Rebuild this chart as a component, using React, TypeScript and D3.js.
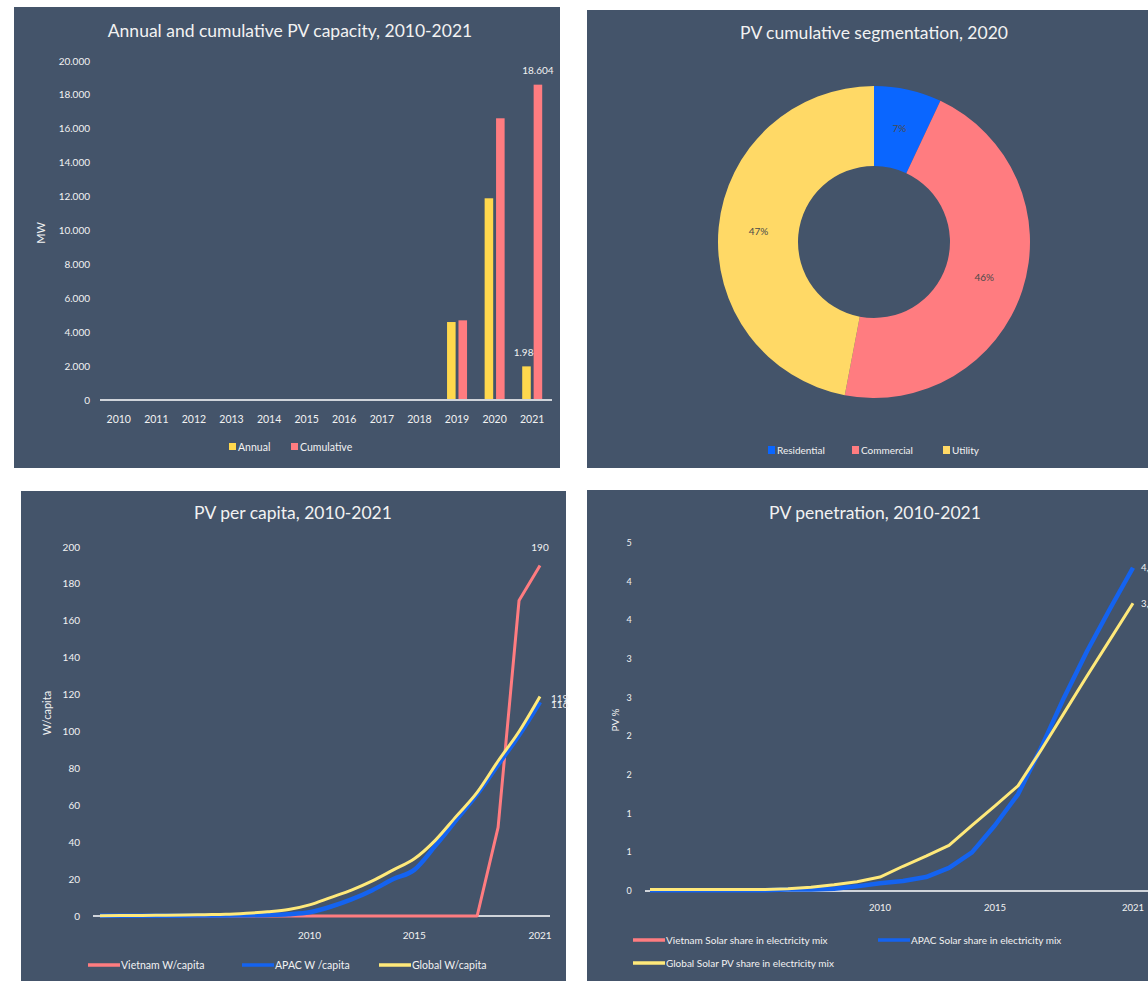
import React from 'react';
import * as d3 from 'd3';

// ---------- data ----------
const capacityYears = ['2010', '2011', '2012', '2013', '2014', '2015', '2016', '2017', '2018', '2019', '2020', '2021'];
const capacitySeries = ['Annual', 'Cumulative'];
const annualMW = [0, 0, 0, 0, 0, 0, 0, 0, 0, 4600, 11900, 1984];
const cumulativeMW = [0, 0, 0, 0, 0, 0, 0, 0, 0, 4700, 16620, 18604];
const capacityTicks = [0, 2000, 4000, 6000, 8000, 10000, 12000, 14000, 16000, 18000, 20000];

const segments = ['Residential', 'Commercial', 'Utility'];
const segmentShares = [7, 46, 47];
const segmentLabels = ['7%', '46%', '47%'];

const lineYears = [2000, 2001, 2002, 2003, 2004, 2005, 2006, 2007, 2008, 2009, 2010, 2011, 2012, 2013, 2014, 2015, 2016, 2017, 2018, 2019, 2020, 2021];
const lineYearTicks = [2010, 2015, 2021];

const vietnamWpc = [0, 0, 0, 0, 0, 0, 0, 0, 0, 0, 0, 0, 0, 0, 0, 0, 0, 0, 0, 48, 171, 190];
const apacWpc = [0.1, 0.1, 0.1, 0.2, 0.2, 0.3, 0.3, 0.4, 0.6, 1, 2, 5, 9, 14, 20, 25, 38, 52, 66, 82, 98, 116];
const globalWpc = [0.2, 0.3, 0.3, 0.4, 0.5, 0.7, 0.9, 1.5, 2.3, 3.5, 6, 10, 14, 19, 25, 31, 41, 54, 67, 84, 100, 119];
const wpcTicks = [0, 20, 40, 60, 80, 100, 120, 140, 160, 180, 200];
const wpcSeries = ['Vietnam W/capita', 'APAC W /capita', 'Global W/capita'];

const vietnamShare: number[] = [];
const apacShare = [0.01, 0.01, 0.01, 0.01, 0.01, 0.01, 0.02, 0.02, 0.03, 0.06, 0.1, 0.13, 0.18, 0.3, 0.5, 0.85, 1.25, 1.85, 2.5, 3.1, 3.65, 4.18];
const globalShare = [0.02, 0.02, 0.02, 0.02, 0.02, 0.02, 0.03, 0.05, 0.08, 0.12, 0.18, 0.32, 0.45, 0.59, 0.85, 1.1, 1.36, 1.82, 2.3, 2.78, 3.25, 3.72];
const shareTicks = [0, 0.5, 1, 1.5, 2, 2.5, 3, 3.5, 4, 4.5];
const shareSeries = ['Vietnam Solar share in electricity mix', 'APAC Solar share in electricity mix', 'Global Solar PV share in electricity mix'];

// ---------- style ----------
const W = 1148;
const H = 981;
const BG = '#44546A';
const TXT = '#F2F2F2';
const AXIS = '#D0D4DA';
const BAR_YELLOW = '#FFD84D';
const SALMON = '#FF7C80';
const BLUE = '#1463F0';
const DONUT_BLUE = '#0A66FF';
const DONUT_YELLOW = '#FFD966';
const LINE_YELLOW = '#FFE97A';
const FONT = 'Lato, "Noto Sans", sans-serif';

const fmtDot = d3.formatLocale({ decimal: ',', thousands: '.', grouping: [3], currency: ['', ''] }).format(',');
const fmtComma2 = (v: number) => v.toFixed(2).replace('.', ',');

function T(props: any) {
  const { children, size = 11, anchor = 'middle', fill = TXT, weight = 400, ...rest } = props;
  return (
    <text fontFamily={FONT} fontSize={size} textAnchor={anchor} fill={fill} fontWeight={weight} dy="0.35em" {...rest}>
      {children}
    </text>
  );
}

export default function App() {
  // ---- chart 1: bars ----
  const x1 = d3.scaleBand<string>().domain(capacityYears).range([100, 551]);
  const x1s = d3.scaleBand<string>().domain(capacitySeries).range([-10, 10]).paddingInner(0.25);
  const y1 = d3.scaleLinear().domain([0, 20000]).range([400, 61]);
  const c1 = (yr: string) => (x1(yr) as number) + x1.bandwidth() / 2;
  const barColor: Record<string, string> = { Annual: BAR_YELLOW, Cumulative: SALMON };
  const seriesVals: Record<string, number[]> = { Annual: annualMW, Cumulative: cumulativeMW };

  // ---- chart 2: donut ----
  const cx2 = 874;
  const cy2 = 242;
  const pie = d3.pie<number>().sort(null).value((d) => d)(segmentShares);
  const arc = d3.arc<d3.PieArcDatum<number>>().innerRadius(76).outerRadius(156);
  const labelArc = d3.arc<d3.PieArcDatum<number>>().innerRadius(116).outerRadius(116);
  const donutColors = [DONUT_BLUE, SALMON, DONUT_YELLOW];

  // ---- chart 3: per capita ----
  const x3 = d3.scaleLinear().domain([2000, 2021]).range([100, 540]);
  const y3 = d3.scaleLinear().domain([0, 200]).range([916, 547]);
  const line3 = (vals: number[], smooth: boolean) =>
    d3
      .line<number>()
      .x((_, i) => x3(lineYears[i]))
      .y((d) => y3(d))
      .curve(smooth ? d3.curveMonotoneX : d3.curveLinear)(vals) as string;

  // ---- chart 4: penetration ----
  const x4 = d3.scaleLinear().domain([2000, 2021]).range([650, 1133]);
  const y4 = d3.scaleLinear().domain([0, 4.5]).range([891, 543]);
  const line4 = (vals: number[]) =>
    d3
      .line<number>()
      .x((_, i) => x4(lineYears[i]))
      .y((d) => y4(d))(vals) as string;

  const last = lineYears.length - 1;

  return (
    <svg width={W} height={H} style={{ position: 'absolute', left: 0, top: 0, background: '#ffffff' }}>
      <rect x={0} y={0} width={W} height={H} fill="#ffffff" />

      {/* ===== Chart 1 ===== */}
      <rect x={14} y={7} width={546} height={461} fill={BG} />
      <T x={290} y={31} size={17.5}>Annual and cumulative PV capacity, 2010-2021</T>
      {capacityTicks.map((t) => (
        <T key={t} x={90} y={y1(t)} anchor="end" size={10}>{fmtDot(t)}</T>
      ))}
      <T x={41} y={233} size={11} transform="rotate(-90 41 233)">MW</T>
      {capacityYears.map((yr) => (
        <T key={yr} x={c1(yr)} y={419} size={10.5}>{yr}</T>
      ))}
      {/* annual bars */}
      {capacityYears.map((yr, i) =>
        annualMW[i] > 0 ? (
          <rect key={'a' + yr} x={c1(yr) + (x1s('Annual') as number)} width={x1s.bandwidth()} y={y1(annualMW[i])} height={y1(0) - y1(annualMW[i])} fill={barColor.Annual} />
        ) : null
      )}
      <T x={c1('2021') + (x1s('Annual') as number) + x1s.bandwidth() / 2} y={y1(annualMW[11]) - 14} size={10}>{fmtDot(annualMW[11])}</T>
      {capacityYears.map((yr, i) =>
        cumulativeMW[i] > 0 ? (
          <rect key={'c' + yr} x={c1(yr) + (x1s('Cumulative') as number)} width={x1s.bandwidth()} y={y1(cumulativeMW[i])} height={y1(0) - y1(cumulativeMW[i])} fill={barColor.Cumulative} />
        ) : null
      )}
      <T x={c1('2021') + (x1s('Cumulative') as number) + x1s.bandwidth() / 2} y={y1(cumulativeMW[11]) - 14} size={10}>{fmtDot(cumulativeMW[11])}</T>
      <line x1={100} x2={552} y1={y1(0)} y2={y1(0)} stroke={AXIS} strokeWidth={2} />
      {/* legend */}
      {capacitySeries.map((s, i) => {
        const lx = [229, 291][i];
        return (
          <g key={s}>
            <rect x={lx} y={443} width={7} height={7} fill={barColor[s]} />
            <T x={lx + 9} y={447} anchor="start" size={10.5}>{s}</T>
          </g>
        );
      })}
      {void seriesVals}

      {/* ===== Chart 2 ===== */}
      <rect x={587} y={10} width={W - 587} height={458} fill={BG} />
      <T x={874} y={33} size={17.5}>PV cumulative segmentation, 2020</T>
      <g transform={`translate(${cx2},${cy2})`}>
        {pie.map((p, i) => (
          <path key={segments[i]} d={arc(p) as string} fill={donutColors[i]} />
        ))}
        {pie.map((p, i) => {
          const [lx, ly] = labelArc.centroid(p);
          return (
            <T key={'l' + i} x={lx} y={ly} size={10} fill="#4a4a4a">{segmentLabels[i]}</T>
          );
        })}
      </g>
      {segments.map((s, i) => {
        const lx = [768, 852, 943][i];
        return (
          <g key={s}>
            <rect x={lx} y={446} width={7} height={8} fill={donutColors[i]} />
            <T x={lx + 9} y={450} anchor="start" size={10}>{s}</T>
          </g>
        );
      })}

      {/* ===== Chart 3 ===== */}
      <rect x={21} y={491} width={545} height={H - 491} fill={BG} />
      <T x={293} y={513} size={17.5}>PV per capita, 2010-2021</T>
      {wpcTicks.map((t) => (
        <T key={t} x={80} y={y3(t)} anchor="end" size={10}>{t}</T>
      ))}
      <T x={47} y={713} size={11} transform="rotate(-90 47 713)">W/capita</T>
      <line x1={93} x2={550} y1={y3(0)} y2={y3(0)} stroke={AXIS} strokeWidth={2} />
      {lineYearTicks.map((yr) => (
        <T key={yr} x={x3(yr)} y={935} size={10}>{yr}</T>
      ))}
      <path d={line3(vietnamWpc, false)} fill="none" stroke={SALMON} strokeWidth={3} strokeLinejoin="round" />
      <path d={line3(apacWpc, true)} fill="none" stroke={BLUE} strokeWidth={4.5} strokeLinejoin="round" />
      <path d={line3(globalWpc, true)} fill="none" stroke={LINE_YELLOW} strokeWidth={3} strokeLinejoin="round" />
      <T x={x3(2021)} y={y3(vietnamWpc[last]) - 18} size={10}>{vietnamWpc[last]}</T>
      <T x={x3(2021) + 11} y={y3(globalWpc[last]) + 2} anchor="start" size={10}>{globalWpc[last]}</T>
      <T x={x3(2021) + 11} y={y3(apacWpc[last]) + 3} anchor="start" size={10}>{apacWpc[last]}</T>
      {wpcSeries.map((s, i) => {
        const lx = [88, 242, 379][i];
        const col = [SALMON, BLUE, LINE_YELLOW][i];
        return (
          <g key={s}>
            <line x1={lx} x2={lx + 32} y1={965} y2={965} stroke={col} strokeWidth={3.5} />
            <T x={lx + 33} y={965} anchor="start" size={10.5}>{s}</T>
          </g>
        );
      })}

      {/* ===== Chart 4 ===== */}
      <rect x={587} y={490} width={W - 587} height={H - 490} fill={BG} />
      <T x={875} y={513} size={17.5}>PV penetration, 2010-2021</T>
      {shareTicks.map((t) => (
        <T key={t} x={629} y={y4(t)} size={9}>{Math.round(t)}</T>
      ))}
      <T x={615} y={720} size={10} transform="rotate(-90 615 720)">PV %</T>
      <line x1={645} x2={W} y1={y4(0)} y2={y4(0)} stroke={AXIS} strokeWidth={2} />
      {lineYearTicks.map((yr) => (
        <T key={yr} x={x4(yr)} y={908} size={9.5}>{yr}</T>
      ))}
      {vietnamShare.length > 0 && <path d={line4(vietnamShare)} fill="none" stroke={SALMON} strokeWidth={3} />}
      <path d={line4(apacShare)} fill="none" stroke={BLUE} strokeWidth={4.5} strokeLinejoin="round" />
      <path d={line4(globalShare)} fill="none" stroke={LINE_YELLOW} strokeWidth={3} strokeLinejoin="round" />
      <T x={x4(2021) + 8} y={y4(apacShare[last])} anchor="start" size={9.5}>{fmtComma2(apacShare[last])}</T>
      <T x={x4(2021) + 8} y={y4(globalShare[last])} anchor="start" size={9.5}>{fmtComma2(globalShare[last])}</T>
      {shareSeries.map((s, i) => {
        const pos = [
          [633, 940],
          [878, 940],
          [633, 963],
        ][i];
        const col = [SALMON, BLUE, LINE_YELLOW][i];
        return (
          <g key={s}>
            <line x1={pos[0]} x2={pos[0] + 32} y1={pos[1]} y2={pos[1]} stroke={col} strokeWidth={3.5} />
            <T x={pos[0] + 33} y={pos[1]} anchor="start" size={10}>{s}</T>
          </g>
        );
      })}
    </svg>
  );
}
